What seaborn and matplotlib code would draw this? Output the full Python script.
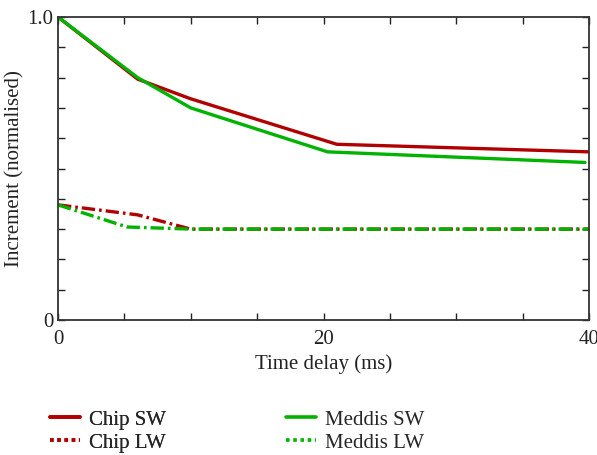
import matplotlib
matplotlib.use("Agg")
import matplotlib.pyplot as plt
from matplotlib.lines import Line2D
import seaborn as sns
import pandas as pd

# Data
chip_sw_x = [0, 6, 10, 21, 40]
chip_sw_y = [1.0, 0.795, 0.73, 0.58, 0.555]
meddis_sw_x = [0, 6, 10, 20.3, 39.7]
meddis_sw_y = [1.0, 0.80, 0.70, 0.555, 0.52]
chip_lw_x = [0, 6, 10, 40]
chip_lw_y = [0.38, 0.347, 0.30, 0.30]
meddis_lw_x = [0, 5.2, 10, 40]
meddis_lw_y = [0.38, 0.307, 0.30, 0.30]
labels = ["Chip SW", "Chip LW", "Meddis SW", "Meddis LW"]

red = "#b00000"
green = "#00b300"

sns.set_style("ticks")
plt.rcParams["font.family"] = ["Liberation Serif", "DejaVu Serif"]

fig = plt.figure(figsize=(5.97, 4.55), dpi=100)
ax = fig.add_axes([0.0972, 0.2967, 0.8894, 0.6659])

lw = 2.4
dashdot = (4, 1.2, 0.8, 1.2)
sns.lineplot(x=chip_sw_x, y=chip_sw_y, ax=ax, color=red, lw=lw)
sns.lineplot(x=meddis_sw_x, y=meddis_sw_y, ax=ax, color=green, lw=lw)
l1 = sns.lineplot(x=chip_lw_x, y=chip_lw_y, ax=ax, color=red, lw=lw).lines[-1]
l1.set_dashes(dashdot)
l2 = sns.lineplot(x=meddis_lw_x, y=meddis_lw_y, ax=ax, color=green, lw=lw).lines[-1]
l2.set_dashes(dashdot)

ax.set_xlim(0, 40)
ax.set_ylim(0, 1.0)
ax.set_xticks([0, 20, 40])
ax.set_xticklabels(["0", "20", "40"])
ax.set_xticks([5, 10, 15, 25, 30, 35], minor=True)
ax.set_yticks([0, 1.0])
ax.set_yticklabels(["0", "1.0"])
ax.set_yticks([0.1 * i for i in range(1, 10)], minor=True)
for which in ("major", "minor"):
    ax.tick_params(axis="both", which=which, direction="in", length=5, width=1,
                   top=True, right=True, colors="#222222", labelsize=15)
ax.tick_params(axis="x", which="major", pad=7)
for s in ax.spines.values():
    s.set_color("#333333")
    s.set_linewidth(1.3)
    s.set_visible(True)

ax.set_xlabel("Time delay (ms)", fontsize=15, color="#222222", labelpad=4)
ax.set_ylabel("Increment (normalised)", fontsize=15, color="#222222", labelpad=2)

handles = [
    Line2D([], [], color=red, lw=2.6),
    Line2D([], [], color=red, lw=2.6, linestyle=(0, (1, 1))),
    Line2D([], [], color=green, lw=2.6),
    Line2D([], [], color=green, lw=2.6, linestyle=(0, (1, 1))),
]
kw = dict(loc="upper left", frameon=False, fontsize=15, handlelength=1.45,
          handletextpad=0.4, labelspacing=0.17, borderaxespad=0, borderpad=0)
leg1 = fig.legend(handles[:2], labels[:2], bbox_to_anchor=(50 / 597, 1 - 410 / 455), **kw)
fig.add_artist(leg1)
fig.legend(handles[2:], labels[2:], bbox_to_anchor=(286 / 597, 1 - 410 / 455), **kw)

fig.savefig("out.png", dpi=100)
